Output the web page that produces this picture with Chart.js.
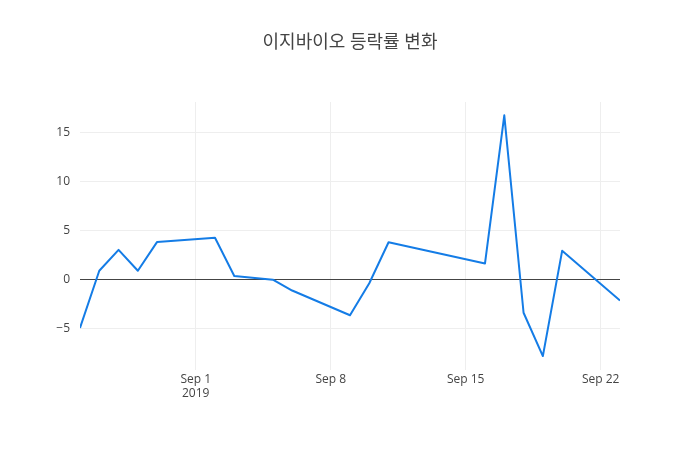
<!DOCTYPE html>
<html>
<head>
<meta charset="utf-8">
<script src="https://cdn.jsdelivr.net/npm/chart.js@4.4.0/dist/chart.umd.min.js"></script>
<style>
  html, body { margin: 0; padding: 0; background: #fff; }
  #wrap { width: 700px; height: 450px; position: relative; }
</style>
</head>
<body>
<div id="wrap"><canvas id="chart" width="700" height="450"></canvas></div>
<script>
// trading days (2019) and daily change rate in %
var dates = ['2019-08-26', '2019-08-27', '2019-08-28', '2019-08-29', '2019-08-30',
  '2019-09-02', '2019-09-03', '2019-09-05', '2019-09-06', '2019-09-09',
  '2019-09-10', '2019-09-11', '2019-09-16', '2019-09-17', '2019-09-18',
  '2019-09-19', '2019-09-20', '2019-09-23'];
var rates = [-4.9, 0.94, 3.07, 0.94, 3.88,
  4.3, 0.4, 0.03, -1.08, -3.6,
  -0.34, 3.85, 1.68, 16.8, -3.35,
  -7.77, 2.97, -2.1];

var xTickDates = ['2019-09-01', '2019-09-08', '2019-09-15', '2019-09-22'];
var xTickLabels = [['Sep 1', '2019'], 'Sep 8', 'Sep 15', 'Sep 22'];
var yTicks = [-5, 0, 5, 10, 15];
var title = '이지바이오 등락률 변화';

// days counted from Sep 1
var base = Date.UTC(2019, 8, 1);
function dayNum(s) {
  var p = s.split('-');
  return (Date.UTC(+p[0], +p[1] - 1, +p[2]) - base) / 86400000;
}

var points = [];
for (var i = 0; i < dates.length; i++) {
  points.push({ x: dayNum(dates[i]), y: rates[i] });
}
var xTickVals = xTickDates.map(dayNum);

var font = '"Open Sans", "Noto Sans CJK KR", sans-serif';

var titlePlugin = {
  id: 'plotTitle',
  afterDraw: function(chart) {
    var ctx = chart.ctx;
    ctx.save();
    ctx.fillStyle = '#444';
    ctx.font = '18px ' + font;
    ctx.textAlign = 'center';
    ctx.textBaseline = 'middle';
    ctx.fillText(title, 350, 43);
    ctx.restore();
  }
};

new Chart(document.getElementById('chart'), {
  type: 'line',
  data: {
    datasets: [{
      data: points,
      borderColor: 'rgb(20,124,230)',
      borderWidth: 2,
      borderJoinStyle: 'round',
      pointRadius: 0,
      tension: 0,
      fill: false
    }]
  },
  options: {
    responsive: false,
    animation: false,
    layout: { padding: { left: 0, right: 80, top: 102, bottom: 0 } },
    plugins: {
      legend: { display: false },
      tooltip: { enabled: false }
    },
    scales: {
      x: {
        type: 'linear',
        min: dayNum(dates[0]),
        max: dayNum(dates[dates.length - 1]),
        afterFit: function(scale) { scale.height = 80; },
        afterBuildTicks: function(scale) {
          scale.ticks = xTickVals.map(function(v) { return { value: v }; });
        },
        ticks: {
          autoSkip: false,
          maxRotation: 0,
          color: '#444',
          font: { family: font, size: 12 },
          padding: 2,
          callback: function(v) {
            var k = xTickVals.indexOf(v);
            return k >= 0 ? xTickLabels[k] : '';
          }
        },
        grid: { color: '#eee', lineWidth: 1, drawTicks: false },
        border: { display: false }
      },
      y: {
        min: -9.19,
        max: 18.16,
        afterFit: function(scale) { scale.width = 80; },
        afterBuildTicks: function(scale) {
          scale.ticks = yTicks.map(function(v) { return { value: v }; });
        },
        ticks: {
          color: '#444',
          font: { family: font, size: 12 },
          padding: 10,
          callback: function(v) { return String(v).replace('-', '\u2212'); }
        },
        grid: {
          drawTicks: false,
          lineWidth: 1,
          color: function(c) { return c.tick && c.tick.value === 0 ? '#444' : '#eee'; }
        },
        border: { display: false }
      }
    }
  },
  plugins: [titlePlugin]
});
</script>
</body>
</html>
